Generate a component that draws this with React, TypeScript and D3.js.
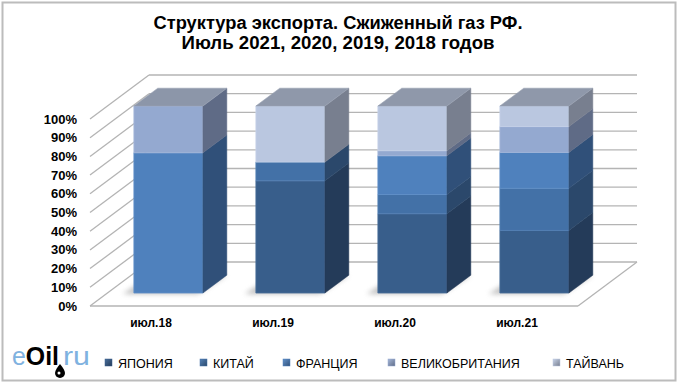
import React from "react";
import * as d3 from "d3";

const categories = ["июл.18", "июл.19", "июл.20", "июл.21"];
const seriesNames = ["ЯПОНИЯ", "КИТАЙ", "ФРАНЦИЯ", "ВЕЛИКОБРИТАНИЯ", "ТАЙВАНЬ"];
const japan = [0, 60, 42.4, 33.5];
const china = [0, 10, 10.3, 22.5];
const france = [75, 0, 20.7, 19.2];
const britain = [25, 0, 2.7, 13.8];
const taiwan = [0, 30, 23.9, 11];
const yTicks = [0, 10, 20, 30, 40, 50, 60, 70, 80, 90, 100];

const frontColors = ["#385e8b", "#4371a7", "#4f81bd", "#94a9d0", "#bac7e0"];
const sideColors = ["#243b59", "#2b486b", "#305079", "#5f6b86", "#787f8f"];
const topColors = ["#7f8ba0", "#8591a6", "#8a95aa", "#8c96a9", "#8f98aa"];
const edgeColors = ["#4a6f9b", "#5482b6", "#6291c9", "#a6b8da", "#c8d3e8"];

const W = 680;
const H = 385;
const DX = 59;
const DY = -44;
const Z1 = 0.295;
const Z2 = 0.7;

export default function App() {
  const allSeries = [japan, china, france, britain, taiwan];
  const rows = categories.map((c, i) => {
    const r: any = { cat: c };
    seriesNames.forEach((s, k) => (r[s] = allSeries[k][i]));
    return r;
  });
  const stacked = d3.stack().keys(seriesNames)(rows);

  const x = d3.scaleBand().domain(categories).range([90, 578]).paddingInner(0.434).paddingOuter(0.217);
  const y = d3.scaleLinear().domain([0, 100]).range([306, 119]);

  const P = (px: number, v: number, z: number): [number, number] => [px + DX * z, y(v) + DY * z];
  const poly = (pts: [number, number][]) => pts.map((p) => p.join(",")).join(" ");

  const x0 = 90, x1 = 578;

  const bars: any[] = [];
  const shadows: any[] = [];
  categories.forEach((c, i) => {
    const bl = x(c)!;
    const br = bl + x.bandwidth();
    shadows.push(
      <polygon key={"sh" + i} points={poly([P(bl - 10, 0, Z1 - 0.02), P(br - 4, 0, Z1 - 0.02), P(br, 0, Z2), P(bl - 6, 0, Z2)])} fill="#8a8a8a" opacity={0.55} filter="url(#blur)" />
    );
    let topK = -1;
    stacked.forEach((s, k) => {
      const [v0, v1] = s[i];
      if (v1 - v0 > 0) topK = k;
    });
    stacked.forEach((s, k) => {
      const [v0, v1] = s[i];
      if (v1 - v0 <= 0) return;
      const front = poly([P(bl, v0, Z1), P(br, v0, Z1), P(br, v1, Z1), P(bl, v1, Z1)]);
      const side = poly([P(br, v0, Z1), P(br, v0, Z2), P(br, v1, Z2), P(br, v1, Z1)]);
      bars.push(<polygon key={`f${i}-${k}`} points={front} fill={frontColors[k]} stroke={edgeColors[k]} strokeWidth={0.8} />);
      bars.push(<polygon key={`s${i}-${k}`} points={side} fill={sideColors[k]} stroke={sideColors[k]} strokeWidth={0.5} />);
      if (k === topK) {
        const top = poly([P(bl, v1, Z1), P(br, v1, Z1), P(br, v1, Z2), P(bl, v1, Z2)]);
        bars.push(<polygon key={`t${i}-${k}`} points={top} fill={topColors[k]} stroke="#9aa3b3" strokeWidth={0.6} />);
      }
    });
  });

  const legendX = [105, 200, 283, 388, 553];

  return (
    <svg width={W} height={H} style={{ position: "absolute", left: 0, top: 0, background: "#fff" }} fontFamily="'Liberation Sans', Arial, sans-serif">
      <defs>
        <filter id="blur" x="-30%" y="-100%" width="160%" height="300%">
          <feGaussianBlur stdDeviation="2.5" />
        </filter>
        {frontColors.map((c, k) => (
          <linearGradient key={k} id={"lg" + k} x1="0" y1="0" x2="1" y2="1">
            <stop offset="0" stopColor={edgeColors[k]} />
            <stop offset="1" stopColor={sideColors[k]} />
          </linearGradient>
        ))}
      </defs>
      <rect x={0} y={0} width={W} height={H} fill="#fff" />
      <rect x={2.5} y={2.5} width={673} height={378} fill="#fff" stroke="#bcbcbc" strokeWidth={2} />

      <text x={338} y={29} textAnchor="middle" fontSize={17.5} fontWeight="bold" textLength={369} lengthAdjust="spacingAndGlyphs">Структура экспорта. Сжиженный газ РФ.</text>
      <text x={338} y={49} textAnchor="middle" fontSize={17.5} fontWeight="bold" textLength={313} lengthAdjust="spacingAndGlyphs">Июль 2021, 2020, 2019, 2018 годов</text>

      {/* floor */}
      <polygon points={poly([P(x0, 0, 0), P(x1, 0, 0), P(x1, 0, 1), P(x0, 0, 1)])} fill="#fff" stroke="none" />
      <line x1={P(x0, 0, 0)[0]} y1={P(x0, 0, 0)[1]} x2={P(x1, 0, 0)[0]} y2={P(x1, 0, 0)[1]} stroke="#b4b4b4" strokeWidth={1.3} />
      <line x1={P(x1, 0, 0)[0]} y1={P(x1, 0, 0)[1]} x2={P(x1, 0, 1)[0]} y2={P(x1, 0, 1)[1]} stroke="#b4b4b4" strokeWidth={1.3} />

      {/* walls */}
      {yTicks.map((t) => {
        const a = P(x0, t, 0);
        const b = P(x0, t, 1);
        const c = P(x1, t, 1);
        return (
          <g key={"g" + t}>
            <line x1={a[0]} y1={a[1]} x2={b[0]} y2={b[1]} stroke="#b4b4b4" strokeWidth={1.3} />
            <line x1={b[0]} y1={b[1]} x2={c[0]} y2={c[1]} stroke="#b4b4b4" strokeWidth={1.3} />
          </g>
        );
      })}

      {yTicks.map((t) => (
        <text key={"yl" + t} x={77} y={y(t) + 4.5} textAnchor="end" fontSize={13} fontWeight="bold" fill="#000">{t + "%"}</text>
      ))}

      {shadows}
      {bars}

      {categories.map((c) => (
        <text key={"c" + c} x={x(c)! + x.bandwidth() / 2} y={327} textAnchor="middle" fontSize={12} fontWeight="bold">{c}</text>
      ))}

      {/* logo */}
      <g>
        <text x={12} y={365} fontSize={25} textLength={47} lengthAdjust="spacingAndGlyphs">
          <tspan fill="#7fb2e0">e</tspan>
          <tspan fill="#000" fontWeight="bold">Oil</tspan>
        </text>
        <text x={63} y={365} fontSize={25} fill="#7fb2e0" textLength={27} lengthAdjust="spacingAndGlyphs">ru</text>
        <path d="M60,364 q-5,6 -5,9 a5,5 0 0 0 10,0 q0,-3 -5,-9z" fill="#000" />
        <circle cx={59} cy={373} r={1.5} fill="#fff" />
      </g>

      {/* legend */}
      {seriesNames.map((s, k) => (
        <g key={"lg" + s}>
          <rect x={legendX[k]} y={359} width={7} height={7} fill={`url(#lg${k})`} stroke={frontColors[k]} strokeWidth={0.5} />
          <text x={legendX[k] + 13} y={367.5} fontSize={12.5} fill="#000">{s}</text>
        </g>
      ))}
    </svg>
  );
}
